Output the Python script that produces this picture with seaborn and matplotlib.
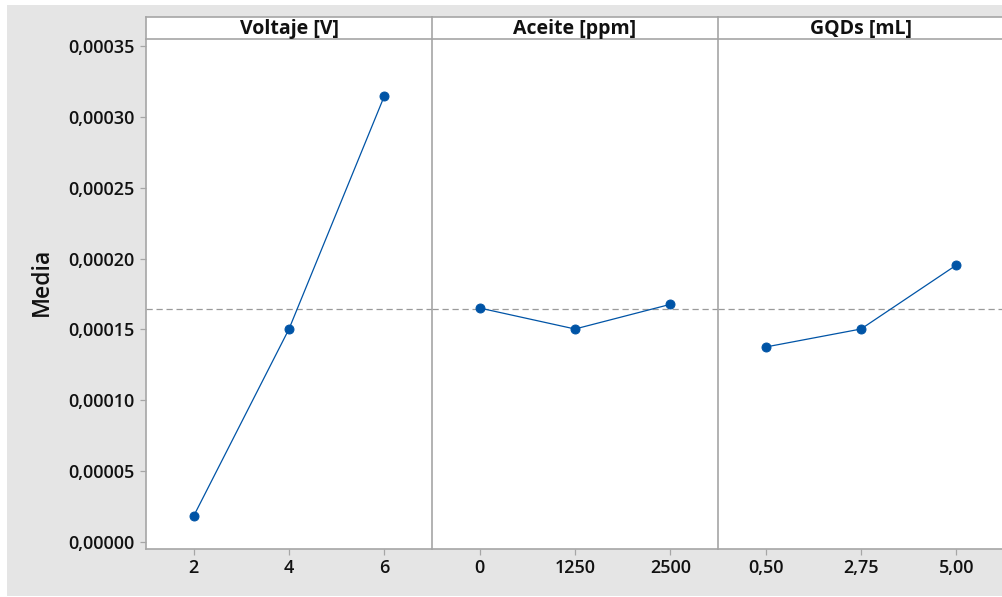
import matplotlib
matplotlib.use("Agg")
import matplotlib.pyplot as plt
import seaborn as sns
import pandas as pd
from matplotlib.patches import Rectangle

sns.set_theme(style="white")
plt.rcParams['font.family'] = ['Open Sans', 'DejaVu Sans']

# ---- data ----
factors = ["Voltaje [V]", "Aceite [ppm]", "GQDs [mL]"]
voltaje_levels = ["2", "4", "6"]
voltaje_means = [0.0000183, 0.0001503, 0.0003147]
aceite_levels = ["0", "1250", "2500"]
aceite_means = [0.0001651, 0.0001503, 0.0001677]
gqds_levels = ["0,50", "2,75", "5,00"]
gqds_means = [0.0001376, 0.0001503, 0.0001954]
grand_mean = 0.0001642
y_ticks = [0.0, 0.00005, 0.00010, 0.00015, 0.00020, 0.00025, 0.00030, 0.00035]
y_tick_labels = ["0,00000", "0,00005", "0,00010", "0,00015", "0,00020",
                 "0,00025", "0,00030", "0,00035"]
y_label = "Media"

panels = [
    (factors[0], voltaje_levels, voltaje_means),
    (factors[1], aceite_levels, aceite_means),
    (factors[2], gqds_levels, gqds_means),
]

W, H = 1003, 597
fig = plt.figure(figsize=(W / 100, H / 100), dpi=100)
fig.patch.set_facecolor("white")
# gray background
fig.patches.append(Rectangle((7 / W, 1 / H), 1 - 7 / W, 1 - 6 / H, transform=fig.transFigure,
                             facecolor="#e5e5e5", edgecolor="none", zorder=-10))

gray = "#a6a6a6"
txt = "#111111"
blue = "#0054a6"
left0 = 146
pw = 286
ax_top = 39
ax_bot = 549
strip_top = 17
ymin = -0.00035 / 496 * 7
ymax = 0.00035 + 0.00035 / 496 * 7

for i, (name, levels, means) in enumerate(panels):
    x0 = left0 + i * pw
    ax = fig.add_axes([x0 / W, (H - ax_bot) / H, pw / W, (ax_bot - ax_top) / H])
    ax.set_facecolor("white")
    df = pd.DataFrame({"level": levels, "mean": means})
    sns.pointplot(data=df, x="level", y="mean", order=levels, ax=ax, color=blue,
                  markers="o", markersize=6.5, linewidth=0.9, errorbar=None)
    ax.axhline(grand_mean, color="#9a9a9a", linestyle=(0, (5, 3)), linewidth=0.9, zorder=1)
    ax.set_xlim(-0.5, 2.5)
    ax.set_ylim(ymin, ymax)
    ax.set_xlabel("")
    ax.set_ylabel("")
    for s in ["top", "right"]:
        ax.spines[s].set_visible(False)
    for s in ["left", "bottom"]:
        ax.spines[s].set_color(gray)
        ax.spines[s].set_linewidth(1.2)
    ax.tick_params(axis="x", direction="out", length=4, width=0.9, color=gray,
                   labelsize=13, labelcolor=txt, pad=3, bottom=True)
    for lab in ax.get_xticklabels():
        lab.set_fontweight("semibold")
    if i == 0:
        ax.set_yticks(y_ticks)
        ax.set_yticklabels(y_tick_labels, fontweight="semibold")
        ax.tick_params(axis="y", direction="out", length=4, width=0.9, color=gray,
                       labelsize=13, labelcolor=txt, pad=4, left=True)
    else:
        ax.set_yticks([])
    # strip
    sax = fig.add_axes([x0 / W, (H - ax_top) / H, pw / W, (ax_top - strip_top) / H])
    sax.set_facecolor("white")
    sax.set_xticks([])
    sax.set_yticks([])
    for s in ["top", "bottom", "left"]:
        sax.spines[s].set_color(gray)
        sax.spines[s].set_linewidth(1.2)
    sax.spines["right"].set_visible(False)
    sax.text(0.5, 0.45, name, ha="center", va="center", fontsize=14,
             fontweight="bold", color=txt, transform=sax.transAxes)

fig.text(42 / W, 1 - 282 / H, y_label, rotation=90, ha="center", va="center",
         fontsize=16.5, fontweight="semibold", color=txt)

fig.savefig("out.png", dpi=100)
